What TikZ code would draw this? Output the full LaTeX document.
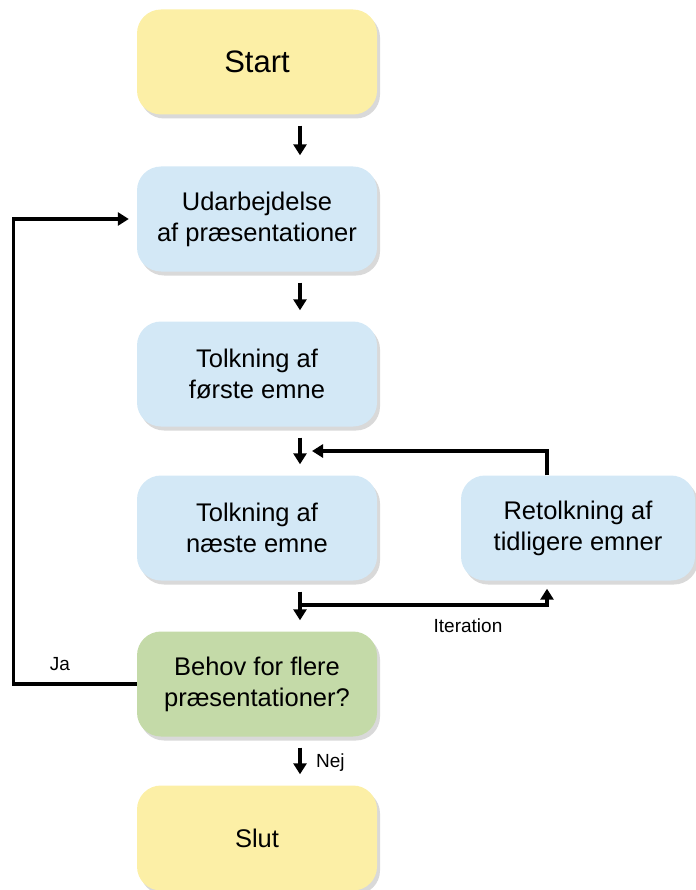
\documentclass[tikz,border=0pt]{standalone}
\usepackage{fontspec}
\setmainfont{Liberation Sans}
\usetikzlibrary{arrows.meta,shadows,calc}
\definecolor{boxyellow}{HTML}{FCEFA6}
\definecolor{boxblue}{HTML}{D3E8F6}
\definecolor{boxgreen}{HTML}{C4DAA8}
\tikzset{
  box/.style={rectangle, rounded corners=24pt, minimum width=240pt, minimum height=105pt,
    align=center, inner sep=0pt, font=\fontsize{25.5}{31}\selectfont,
    drop shadow={shadow xshift=3pt, shadow yshift=-4pt, opacity=0.25, fill=black!60}},
  ybox/.style={box, fill=boxyellow},
  bbox/.style={box, fill=boxblue},
  gbox/.style={box, fill=boxgreen},
  arr/.style={line width=3.3pt, -{Triangle[length=11pt,width=13pt]}},
  small/.style={arr, shorten <=11pt, shorten >=11pt},
  lbl/.style={font=\fontsize{19}{22}\selectfont, inner sep=0pt}
}
\begin{document}
\begin{tikzpicture}[x=1pt,y=-1pt]
\useasboundingbox (0,0) rectangle (695,890);
\node[ybox, font=\fontsize{31}{36}\selectfont] (start) at (257,62) {Start};
\node[bbox] (ud) at (257,219) {Udarbejdelse\\af præsentationer};
\node[bbox] (t1) at (257,374) {Tolkning af\\første emne};
\node[bbox] (t2) at (257,528) {Tolkning af\\næste emne};
\node[bbox, minimum width=234pt] (ret) at (578,528) {Retolkning af\\tidligere emner};
\node[gbox] (beh) at (257,684) {Behov for flere\\præsentationer?};
\node[ybox] (slut) at (257,838) {Slut};

\coordinate (ax) at (300,0);
\draw[small] (start.south -| ax) -- (ud.north -| ax);
\draw[small] (ud.south -| ax) -- (t1.north -| ax);
\draw[small] (t1.south -| ax) -- (t2.north -| ax);
\draw[small] (t2.south -| ax) -- (beh.north -| ax);
\draw[small] (beh.south -| ax) -- (slut.north -| ax);

\coordinate (toptip) at (312,451);
\draw[arr] ([xshift=-31pt]ret.north) |- (toptip);
\coordinate (botstart) at (300,605);
\draw[arr] (botstart) -| ([xshift=-31pt,yshift=-8pt]ret.south);
\node[lbl] (iter) at (468,626) {Iteration};

\draw[arr, shorten >=8pt] (beh.west) -- ++(-123,0) |- (ud.west);
\node[lbl] (ja) at (60,664) {Ja};
\node[lbl, anchor=west] (nej) at (316,763) {Nej};
\end{tikzpicture}
\end{document}
